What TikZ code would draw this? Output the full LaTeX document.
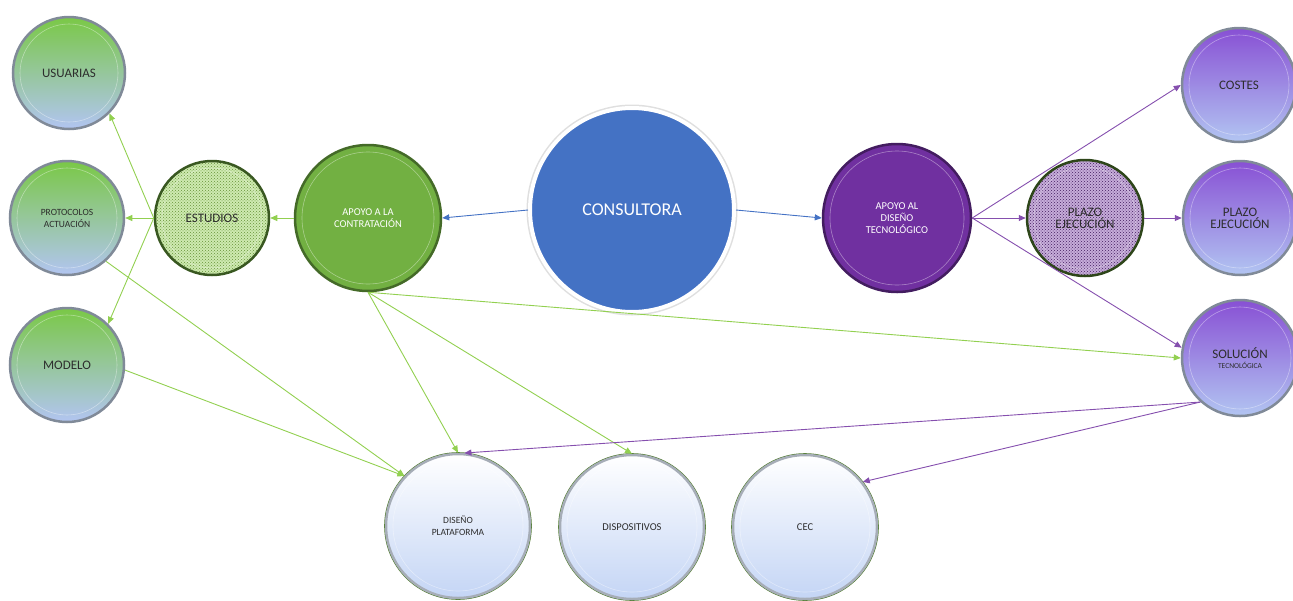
\documentclass[tikz,border=0pt]{standalone}
\usepackage{fontspec}
\setmainfont{Carlito}
\usetikzlibrary{arrows.meta, patterns}
\definecolor{leafgreen}{RGB}{114,176,66}
\definecolor{limegreen}{RGB}{146,208,80}
\definecolor{topgreen}{RGB}{122,200,70}
\definecolor{royalpurple}{RGB}{112,48,160}
\definecolor{toppurple}{RGB}{136,80,212}
\definecolor{skyblue}{RGB}{178,197,242}
\definecolor{paleblue}{RGB}{196,213,245}
\definecolor{consultblue}{RGB}{68,114,196}
\definecolor{rimgray}{RGB}{128,138,152}
\definecolor{textgray}{RGB}{45,45,45}

\newcommand{\labelbig}{\fontsize{13}{15}\selectfont}
\newcommand{\labelmid}{\fontsize{10.5}{13}\selectfont}
\newcommand{\labelsmall}{\fontsize{9.5}{12}\selectfont}

\tikzset{
  bubble/.style={circle, inner sep=0pt, minimum size=#1*2pt, align=center,
    text=textgray, line width=2.5pt,
    path picture={\draw[white, opacity=0.4, line width=0.6pt]
      (path picture bounding box.center) circle[radius=#1pt-7pt];}},
  hub/.style={circle, inner sep=0pt, minimum size=#1*2pt, align=center, text=white,
    fill=consultblue, draw=white, line width=4pt, preaction={draw=gray!25, line width=7pt}},
  greenleaf/.style={bubble=#1, draw=rimgray, top color=topgreen, bottom color=skyblue},
  purpleleaf/.style={bubble=#1, draw=rimgray, top color=toppurple, bottom color=skyblue},
  paleleaf/.style={bubble=#1, draw=rimgray!70, top color=white, bottom color=paleblue,
    preaction={draw=leafgreen!70!black, line width=3.6pt}},
  hatched/.style={bubble=#1, pattern=crosshatch dots},
  greenarrow/.style={draw=limegreen, line width=0.9pt, -{Triangle[length=7pt, width=6pt]}},
  purplearrow/.style={draw=royalpurple!85, line width=0.9pt, -{Triangle[length=7pt, width=6pt]}},
  bluearrow/.style={draw=consultblue, line width=0.9pt, -{Triangle[length=7pt, width=6pt]}}
}

\begin{document}
\begin{tikzpicture}[x=1pt, y=-1pt]
  \useasboundingbox (0,0) rectangle (1293,600);

  % Centre
  \node[hub=102] (con) at (632,210) {\fontsize{18}{20}\selectfont CONSULTORA};

  % Contracting side
  \node[bubble=73, fill=leafgreen, draw=leafgreen!60!black, text=white] (ac) at (368,218)
    {\labelmid APOYO A LA\\ \labelmid CONTRATACIÓN};
  \node[hatched=57, preaction={fill=limegreen!45}, pattern color=limegreen!70!black,
    draw=leafgreen!50!black] (est) at (212,218) {\labelbig ESTUDIOS};
  \node[greenleaf=56] (usu) at (69,73) {\labelbig USUARIAS};
  \node[greenleaf=57] (pro) at (67,218) {\labelsmall PROTOCOLOS\\ \labelsmall ACTUACIÓN};
  \node[greenleaf=57] (mod) at (67,365) {\labelbig MODELO};

  % Technology side
  \node[bubble=74, fill=royalpurple, draw=royalpurple!60!black, text=white] (adt) at (897,218)
    {\labelmid APOYO AL\\ \labelmid DISEÑO\\ \labelmid TECNOLÓGICO};
  \node[hatched=58, preaction={fill=royalpurple!40}, pattern color=royalpurple!60!black,
    draw=leafgreen!40!black] (pzh) at (1085,218) {\labelbig PLAZO\\ \labelbig EJECUCIÓN};
  \node[purpleleaf=57] (cos) at (1239,85) {\labelbig COSTES};
  \node[purpleleaf=57] (pze) at (1240,218) {\labelbig PLAZO\\ \labelbig EJECUCIÓN};
  \node[purpleleaf=58] (sol) at (1240,358)
    {\labelbig SOLUCIÓN\\[-2pt] \fontsize{7.5}{9}\selectfont TECNOLÓGICA};

  % Bottom row
  \node[paleleaf=72] (dp) at (458,526) {\labelsmall DISEÑO\\ \labelsmall PLATAFORMA};
  \node[paleleaf=72] (dis) at (632,527) {\labelmid DISPOSITIVOS};
  \node[paleleaf=72] (cec) at (805,527) {\labelmid CEC};

  % Connectors
  \draw[bluearrow] (con.west) -- (ac.east);
  \draw[bluearrow] (con.east) -- (adt.west);

  \draw[greenarrow] (ac.west) -- (est.east);
  \draw[greenarrow] (est.west) -- (pro.east);
  \draw[greenarrow] (est.west) -- (usu.-45);
  \draw[greenarrow] (est.west) -- (mod.45);
  \draw[greenarrow] (pro.-48) -- (dp.137);
  \draw[greenarrow] (mod.-5) -- (dp.137);
  \draw[greenarrow] (ac.south) -- (dp.north);
  \draw[greenarrow] (ac.south) -- (dis.north);
  \draw[greenarrow] (ac.south) -- (sol.west);

  \draw[purplearrow] (adt.east) -- (pzh.west);
  \draw[purplearrow] (adt.east) -- (cos.west);
  \draw[purplearrow] (adt.east) -- (sol.170);
  \draw[purplearrow] (pzh.east) -- (pze.west);
  \draw[purplearrow] (sol.228) -- (dp.85);
  \draw[purplearrow] (sol.228) -- (cec.38);
\end{tikzpicture}
\end{document}
